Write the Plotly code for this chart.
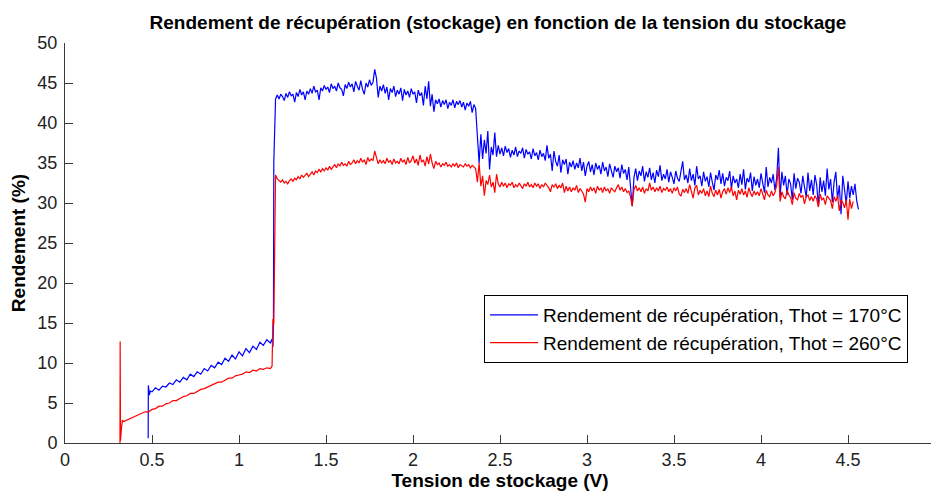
import plotly.graph_objects as go

# ---- Data ----
# low-voltage part, Thot = 170°C
v_low_170 = [0.478, 0.479, 0.485, 0.49,
             0.50, 0.52, 0.54, 0.56, 0.58, 0.60, 0.62, 0.64, 0.66, 0.68, 0.70, 0.72, 0.74, 0.76, 0.78,
             0.80, 0.82, 0.84, 0.86, 0.88, 0.90, 0.92, 0.94, 0.96, 0.98, 1.00, 1.02, 1.04, 1.06, 1.08,
             1.10, 1.12, 1.14, 1.16, 1.18, 1.19, 1.195, 1.198, 1.20, 1.205, 1.21]
r_low_170 = [0.6, 7.2, 6.0, 6.5,
             6.4, 6.9, 6.6, 7.1, 7.0, 7.5, 7.3, 7.9, 7.6, 8.2, 7.9, 8.6, 8.3, 8.9, 8.6,
             9.3, 9.0, 9.7, 9.4, 10.1, 9.8, 10.6, 10.2, 11.0, 10.5, 11.4, 10.9, 11.8, 11.3, 12.1,
             11.7, 12.6, 12.2, 12.9, 12.5, 13.0, 12.0, 15.0, 35.0, 41.5, 43.0]

# low-voltage part, Thot = 260°C
v_low_260 = [0.316, 0.317, 0.319, 0.325, 0.33, 0.34,
             0.36, 0.38, 0.40, 0.42, 0.44, 0.46, 0.48, 0.50, 0.52, 0.54, 0.56, 0.58, 0.60, 0.62,
             0.64, 0.66, 0.68, 0.70, 0.72, 0.74, 0.76, 0.78, 0.80, 0.82, 0.84, 0.86, 0.88, 0.90,
             0.92, 0.94, 0.96, 0.98, 1.00, 1.02, 1.04, 1.06, 1.08, 1.10, 1.12, 1.14, 1.16, 1.18,
             1.19, 1.195, 1.20, 1.205, 1.21]
r_low_260 = [0.0, 12.7, 0.3, 2.0, 2.8, 2.7,
             2.9, 3.1, 3.2, 3.5, 3.6, 3.9, 3.9, 4.2, 4.3, 4.6, 4.6, 4.9, 5.0, 5.3,
             5.3, 5.6, 5.8, 5.9, 6.2, 6.2, 6.5, 6.7, 6.8, 7.0, 7.2, 7.3, 7.6, 7.6,
             7.9, 8.1, 8.1, 8.4, 8.5, 8.6, 8.9, 8.8, 9.1, 9.0, 9.3, 9.2, 9.4, 9.3,
             9.6, 15.5, 14.8, 30.0, 33.5]

# high-voltage sampling grid shared by both series (1.22 V ... 4.53 V)
v_high = [
    1.22, 1.23, 1.24, 1.25, 1.26, 1.27, 1.28, 1.29, 1.30, 1.31,
    1.32, 1.33, 1.34, 1.35, 1.36, 1.37, 1.38, 1.39, 1.40, 1.41,
    1.42, 1.43, 1.44, 1.45, 1.46, 1.47, 1.48, 1.49, 1.50, 1.51,
    1.52, 1.53, 1.54, 1.55, 1.56, 1.57, 1.58, 1.59, 1.60, 1.61,
    1.62, 1.63, 1.64, 1.65, 1.66, 1.67, 1.68, 1.69, 1.70, 1.71,
    1.72, 1.73, 1.74, 1.75, 1.76, 1.77, 1.78, 1.79, 1.80, 1.81,
    1.82, 1.83, 1.84, 1.85, 1.86, 1.87, 1.88, 1.89, 1.90, 1.91,
    1.92, 1.93, 1.94, 1.95, 1.96, 1.97, 1.98, 1.99, 2.00, 2.01,
    2.02, 2.03, 2.04, 2.05, 2.06, 2.07, 2.08, 2.09, 2.10, 2.11,
    2.12, 2.13, 2.14, 2.15, 2.16, 2.17, 2.18, 2.19, 2.20, 2.21,
    2.22, 2.23, 2.24, 2.25, 2.26, 2.27, 2.28, 2.29, 2.30, 2.31,
    2.32, 2.33, 2.34, 2.35, 2.36,
    2.37, 2.38, 2.39, 2.40, 2.41, 2.42, 2.43, 2.44, 2.45, 2.46,
    2.47, 2.48, 2.49, 2.50, 2.51, 2.52, 2.53, 2.54, 2.55, 2.56,
    2.57, 2.58, 2.59, 2.60, 2.61, 2.62, 2.63, 2.64, 2.65, 2.66,
    2.67, 2.68, 2.69, 2.70, 2.71, 2.72, 2.73, 2.74, 2.75, 2.76,
    2.77, 2.78, 2.79, 2.80, 2.81, 2.82, 2.83, 2.84, 2.85, 2.86,
    2.87, 2.88, 2.89, 2.90, 2.91, 2.92, 2.93, 2.94, 2.95, 2.96,
    2.97, 2.98, 2.99, 3.00, 3.01, 3.02, 3.03, 3.04, 3.05, 3.06,
    3.07, 3.08, 3.09, 3.10, 3.11, 3.12, 3.13, 3.14, 3.15, 3.16,
    3.17, 3.18, 3.19, 3.20, 3.21, 3.22, 3.23, 3.24, 3.25, 3.26,
    3.27, 3.28, 3.29, 3.30, 3.31, 3.32, 3.33, 3.34, 3.35, 3.36,
    3.37, 3.38, 3.39, 3.40, 3.41, 3.42, 3.43, 3.44, 3.45, 3.46,
    3.47, 3.48, 3.49, 3.50, 3.51, 3.52, 3.53, 3.54, 3.55, 3.56,
    3.57, 3.58, 3.59, 3.60, 3.61, 3.62, 3.63, 3.64, 3.65, 3.66,
    3.67, 3.68, 3.69, 3.70, 3.71, 3.72, 3.73, 3.74, 3.75, 3.76,
    3.77, 3.78, 3.79, 3.80, 3.81, 3.82, 3.83, 3.84, 3.85, 3.86,
    3.87, 3.88, 3.89, 3.90, 3.91, 3.92, 3.93, 3.94, 3.95, 3.96,
    3.97, 3.98, 3.99, 4.00, 4.01, 4.02, 4.03, 4.04, 4.05, 4.06,
    4.07, 4.08, 4.09, 4.10, 4.11, 4.12, 4.13, 4.14, 4.15, 4.16,
    4.17, 4.18, 4.19, 4.20, 4.21, 4.22, 4.23, 4.24, 4.25, 4.26,
    4.27, 4.28, 4.29, 4.30, 4.31, 4.32, 4.33, 4.34, 4.35, 4.36,
    4.37, 4.38, 4.39, 4.40, 4.41, 4.42, 4.43, 4.44, 4.45, 4.46,
    4.47, 4.48, 4.49, 4.50, 4.51, 4.52, 4.53]
v_end_170 = [4.54, 4.55, 4.56]

r_high_170 = [
    43.5, 43.0, 43.6, 43.3, 42.8, 43.7, 43.2, 43.9, 43.4, 43.6,
    42.6, 43.8, 43.3, 44.2, 43.5, 43.9, 42.9, 44.0, 43.6, 44.3,
    43.7, 44.6, 43.9, 44.1, 42.9, 44.4, 44.0, 44.7, 44.2, 44.5,
    43.8, 44.9, 44.3, 44.6, 44.0, 45.0, 44.4, 44.2, 43.4, 44.8,
    44.3, 45.1, 44.5, 44.9, 43.9, 45.2, 44.6, 44.1, 45.3, 44.2,
    43.6, 45.0, 44.5, 45.4, 44.7, 45.1, 46.7, 45.6, 43.2, 44.6,
    44.0, 44.8, 43.7, 44.5, 42.9, 44.3, 43.8, 44.6, 43.3, 44.1,
    43.6, 44.4, 42.8, 44.2, 43.5, 44.0, 43.2, 44.3, 43.6, 43.9,
    42.5, 44.1, 43.4, 43.8, 42.2, 44.6, 43.0, 45.2, 42.1, 43.6,
    41.4, 42.9, 42.4, 43.0, 42.0, 42.8, 42.3, 42.9, 41.8, 42.6,
    42.2, 42.9, 41.9, 42.7, 42.3, 42.8, 42.0, 42.6, 41.6, 42.5,
    42.1, 42.7, 41.3, 42.3, 41.8,
    38.0, 35.0, 38.6, 35.5, 37.9, 36.2, 39.0, 34.2, 37.0, 36.0,
    38.8, 35.8, 37.2, 36.1, 36.9, 35.9, 37.1, 36.3, 36.8, 35.7,
    36.6, 36.0, 37.0, 35.8, 36.5, 36.2, 36.9, 35.6, 36.7, 36.1,
    36.4, 35.5, 36.8, 35.9, 36.3, 35.4, 36.6, 35.8, 36.2, 35.3,
    37.2, 35.6, 36.1, 34.0, 36.5, 35.2, 34.6, 36.0, 33.8, 35.4,
    34.8, 35.5, 33.6, 35.1, 34.5, 35.3, 34.2, 35.0, 34.4, 35.6,
    34.0, 35.1, 33.4, 34.6, 35.2, 33.9, 34.8, 33.5, 35.0, 34.2,
    34.7, 33.6, 35.1, 34.0, 34.5, 33.3, 34.9, 34.1, 33.2, 34.6,
    33.9, 34.4, 33.1, 34.8, 33.7, 34.2, 32.9, 34.5, 31.5, 29.6,
    33.2, 34.3, 32.8, 34.0, 33.4, 34.6, 32.7, 33.9, 33.2, 34.4,
    32.9, 33.8, 32.5, 34.1, 33.3, 34.7, 32.8, 33.6, 33.0, 34.2,
    32.6, 33.9, 33.2, 32.4, 34.0, 33.1, 32.7, 33.8, 35.2, 32.9,
    33.5, 32.5, 34.3, 32.8, 33.6, 32.2, 34.6, 33.0, 33.4, 32.1,
    33.9, 32.7, 33.3, 32.0, 33.8, 32.6, 31.6, 33.5, 32.9, 34.1,
    32.4, 33.7, 32.1, 33.2, 32.8, 34.0, 31.8, 33.4, 32.5, 33.0,
    31.9, 33.6, 32.3, 34.2, 31.7, 33.1, 32.6, 33.8, 31.5, 33.3,
    32.2, 33.0, 31.9, 33.7, 32.4, 31.3, 34.5, 32.0, 33.2, 32.5,
    33.6, 31.6, 33.1, 36.9, 30.8, 33.9, 32.2, 33.4, 31.0, 33.0,
    32.4, 30.4, 33.7, 31.8, 33.1, 32.6, 31.2, 33.4, 32.0, 30.7,
    33.8, 31.5, 32.9, 31.0, 33.5, 32.3, 29.6, 33.2, 31.4, 32.8,
    30.9, 34.3, 31.7, 33.0, 30.1, 32.6, 33.9, 30.5, 32.2, 28.6,
    33.4, 31.2, 29.9, 32.7, 30.6, 32.1, 31.0, 32.4, 30.3, 29.2]

r_high_260 = [
    33.0, 32.8, 32.6, 32.9, 32.5, 32.7, 32.4, 32.8, 33.0, 32.7,
    33.1, 32.9, 33.3, 33.0, 33.5, 33.2, 33.4, 33.7, 33.3, 33.6,
    33.9, 33.5, 34.0, 33.8, 34.2, 33.9, 34.3, 34.0, 34.4, 34.1,
    34.6, 34.2, 34.5, 34.8, 34.4, 34.9, 34.6, 35.1, 34.7, 34.9,
    34.6, 35.2, 34.8, 35.0, 35.4, 34.9, 35.3, 35.0, 35.6, 35.1,
    35.4, 34.8, 35.7, 35.2, 35.5, 35.3, 36.5, 35.8, 34.9, 35.4,
    35.0, 35.3, 34.9, 35.6, 35.1, 35.3, 34.8, 35.5, 35.0, 35.2,
    34.9, 35.6, 35.1, 35.4, 34.8, 35.7, 35.0, 35.3, 35.9, 35.0,
    35.5, 34.7, 36.0, 35.1, 35.4, 34.6, 35.8, 34.9, 36.1, 35.0,
    34.3, 35.2, 34.8, 35.0, 34.5, 34.9, 34.7, 35.1, 34.6, 34.8,
    34.5, 34.9, 34.6, 35.0, 34.4, 34.8, 34.7, 34.5, 34.9, 34.6,
    34.8, 34.4, 34.7, 34.5, 34.3,
    32.6, 35.0, 32.1, 33.4, 30.9, 32.8, 32.3, 33.5, 32.0, 32.6,
    31.3, 33.6, 32.4, 32.0, 32.6, 32.1, 32.5, 31.9, 32.4, 32.2,
    32.6, 31.9, 32.3, 32.0, 32.5, 32.2, 31.8, 32.4, 32.1, 32.6,
    32.0, 32.3, 31.9, 32.5, 32.1, 32.4, 31.8, 32.3, 32.0, 32.5,
    32.2, 31.9, 31.4, 32.3, 32.0, 32.4, 31.8, 32.2, 31.9, 32.5,
    31.3, 32.1, 31.5, 32.0, 31.4, 31.9, 31.6, 32.2, 31.3, 31.8,
    31.5, 31.1, 30.1, 31.8, 31.4, 32.0, 31.5, 31.9, 31.2, 32.1,
    31.6, 31.9, 31.3, 32.0, 31.5, 31.8, 31.2, 31.9, 31.6, 31.4,
    31.9, 32.3, 31.6, 32.0, 31.4, 31.8, 31.3, 31.5, 30.8, 29.6,
    31.7, 32.2, 31.5, 31.9, 31.4, 32.0, 31.2, 31.8, 31.5, 32.5,
    31.6, 32.0, 31.4, 31.9, 31.5, 32.1, 31.3, 31.8, 31.6, 32.0,
    31.4, 31.8, 31.2, 31.9, 31.5, 32.0, 31.1, 30.9, 31.7, 31.3,
    31.8, 31.2, 32.3, 31.5, 30.6, 31.9, 32.2, 31.0, 31.6, 31.2,
    31.8, 30.9, 31.5, 30.8, 32.1, 31.2, 30.8, 31.6, 31.0, 31.7,
    30.6, 31.4, 31.8, 31.1, 31.9, 31.3, 32.0, 30.9, 31.5, 30.4,
    31.6, 31.1, 31.8, 31.0, 31.5, 30.7, 31.9, 31.2, 30.8, 31.5,
    31.0, 31.4, 30.9, 31.8, 31.2, 30.4, 31.6, 31.0, 30.8, 31.5,
    30.9, 31.3, 32.2, 34.5, 30.2, 31.4, 30.8, 30.5, 31.6, 31.0,
    30.7, 29.8, 31.3, 30.6, 30.4, 31.2, 30.7, 31.0, 29.9, 30.8,
    31.0, 30.3, 30.8, 30.2, 30.9, 30.5, 29.5, 31.1, 30.4, 30.6,
    29.8, 30.9, 30.6, 30.3, 29.3, 30.8, 30.2, 30.9, 29.0, 30.4,
    30.1, 29.4, 30.4, 27.9, 30.5, 29.3, 30.2]

x_ticks = [0, 0.5, 1, 1.5, 2, 2.5, 3, 3.5, 4, 4.5, 5]
x_tick_labels = ["0", "0.5", "1", "1.5", "2", "2.5", "3", "3.5", "4", "4.5", "5"]
y_ticks = [0, 5, 10, 15, 20, 25, 30, 35, 40, 45, 50]
y_tick_labels = ["0", "5", "10", "15", "20", "25", "30", "35", "40", "45", "50"]

names = ["Rendement de récupération, Thot = 170°C",
         "Rendement de récupération, Thot = 260°C"]
colors = ["#0000ff", "#ff0000"]

x_170 = v_low_170 + v_high + v_end_170
y_170 = r_low_170 + r_high_170
x_260 = v_low_260 + v_high
y_260 = r_low_260 + r_high_260
if len(x_170) != len(y_170) or len(x_260) != len(y_260):
    raise ValueError(f"length mismatch: {len(x_170)} {len(y_170)} {len(x_260)} {len(y_260)}")

fig = go.Figure()
fig.add_trace(go.Scatter(x=x_170, y=y_170, mode="lines", name=names[0],
                         line=dict(color=colors[0], width=1.2)))
fig.add_trace(go.Scatter(x=x_260, y=y_260, mode="lines", name=names[1],
                         line=dict(color=colors[1], width=1.2)))

font_family = "Liberation Sans, Arial, sans-serif"
axis_common = dict(showgrid=False, zeroline=False, showline=True, linecolor="#3a3a3a",
                   linewidth=1, ticks="inside", ticklen=8, tickcolor="#3a3a3a",
                   tickfont=dict(size=18, color="#222222", family=font_family),
                   mirror=False, automargin=False)

# The page body adds an 8 px offset, so the figure is sized 8 px smaller
# and its margins compensate to keep the reference's pixel layout.
fig.update_layout(
    width=931, height=483,
    margin=dict(l=57, r=4, t=35, b=48),
    paper_bgcolor="white", plot_bgcolor="white",
    font=dict(family=font_family, color="#000000"),
    title=dict(text="<b>Rendement de récupération (stockage) en fonction de la tension du stockage</b>",
               x=0.5263, xanchor="center", y=0.971, yanchor="middle",
               font=dict(size=19, color="#000000")),
    xaxis=dict(range=[0, 5], tickvals=x_ticks, ticktext=x_tick_labels,
               title=dict(text="<b>Tension de stockage (V)</b>", font=dict(size=19), standoff=6),
               **axis_common),
    yaxis=dict(range=[0, 50], tickvals=y_ticks, ticktext=y_tick_labels,
               ticklabelstandoff=3,
               title=dict(text="<b>Rendement (%)</b>", font=dict(size=19), standoff=8),
               **axis_common),
    legend=dict(x=0.969, xanchor="right", y=0.37, yanchor="top",
                bgcolor="white", bordercolor="#000000", borderwidth=1,
                itemwidth=48,
                font=dict(size=19, color="#000000"), tracegroupgap=0),
    showlegend=True,
)

fig.write_html("out.html")
